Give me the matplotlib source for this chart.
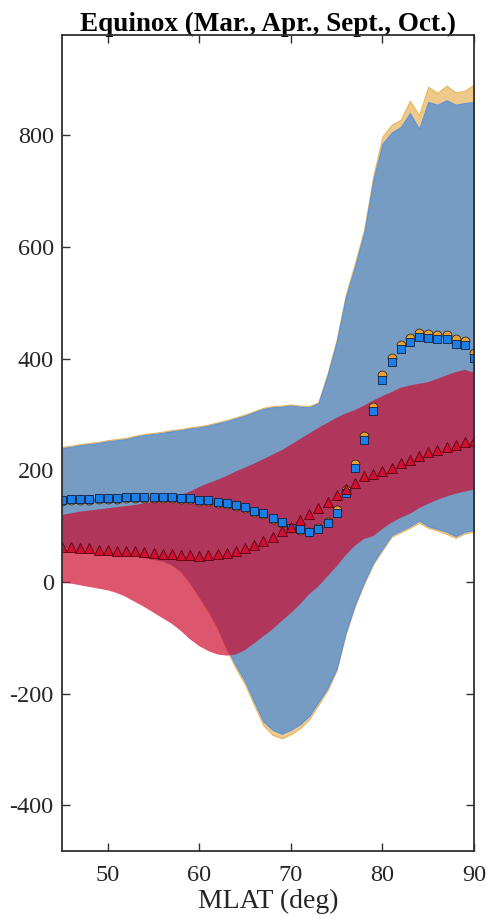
import numpy as np
import matplotlib.pyplot as plt

plt.rcParams['font.family'] = ['Liberation Serif', 'DejaVu Serif']
plt.rcParams['axes.unicode_minus'] = False

# magnetic latitude grid (deg)
mlat = np.arange(45, 91)

# orange set: mean and spread bounds
orange_mean = [145, 146, 147, 147, 148, 148, 149, 150, 151, 151, 151, 151, 150, 149, 148,
               145, 145, 142, 139, 136, 132, 125, 122, 112, 105, 96, 93, 89, 96, 108,
               128, 164, 211, 262, 314, 370, 402, 425, 437, 446, 445, 443, 443, 435, 432, 410]
orange_hi = [242, 244, 247, 249, 251, 254, 256, 258, 262, 265, 267, 269, 272, 274, 277,
             279, 282, 286, 290, 295, 300, 306, 312, 315, 316, 318, 316, 315, 322, 373,
             434, 515, 571, 631, 727, 798, 819, 828, 862, 836, 887, 876, 889, 877, 880, 891]
orange_lo = [64, 61, 59, 57, 55, 53, 51, 49, 47, 44, 41, 38, 31, 18, -3, -28, -54, -84,
             -122, -155, -184, -221, -257, -274, -280, -273, -262, -246, -220, -194,
             -158, -93, -43, -3, 32, 57, 81, 89, 97, 106, 97, 92, 86, 79, 87, 90]

# blue set
blue_mean = [147, 148, 149, 149, 150, 150, 151, 152, 153, 153, 153, 153, 152, 151, 150,
             147, 147, 144, 141, 138, 134, 127, 124, 114, 107, 97, 94, 89, 95, 106,
             124, 159, 205, 255, 307, 362, 394, 417, 429, 438, 437, 435, 435, 427, 424, 402]
blue_hi = [240, 242, 245, 247, 249, 252, 254, 256, 260, 263, 265, 267, 270, 272, 275,
           277, 280, 284, 288, 293, 298, 304, 310, 313, 314, 316, 314, 313, 320, 370,
           430, 510, 565, 625, 720, 785, 805, 815, 840, 812, 860, 855, 863, 855, 858, 860]
blue_lo = [65, 62, 60, 58, 56, 54, 52, 50, 48, 45, 42, 39, 32, 20, 0, -25, -50, -80,
           -118, -150, -178, -215, -250, -265, -272, -265, -255, -240, -215, -190,
           -155, -90, -40, 0, 35, 60, 84, 92, 100, 110, 100, 95, 90, 82, 90, 93]

# red set
red_mean = [62, 62, 60, 60, 58, 58, 56, 56, 55, 54, 52, 50, 50, 48, 48, 47, 48, 50,
            52, 56, 60, 66, 73, 81, 91, 99, 111, 122, 132, 143, 155, 167, 178, 189,
            193, 199, 205, 213, 218, 226, 232, 237, 242, 245, 250, 253]
red_hi = [120, 123, 126, 128, 130, 132, 134, 136, 138, 141, 144, 147, 151, 156, 162,
          170, 177, 183, 190, 198, 205, 212, 220, 228, 236, 246, 256, 266, 276, 285,
          294, 302, 308, 316, 325, 333, 340, 348, 352, 355, 358, 364, 370, 376, 380, 375]
red_lo = [0, -3, -6, -9, -12, -15, -20, -27, -36, -45, -55, -65, -75, -88, -103, -115,
          -124, -130, -132, -130, -122, -110, -97, -85, -70, -56, -40, -22, -8, 10, 28,
          48, 65, 77, 82, 95, 106, 115, 122, 132, 140, 147, 153, 158, 162, 165]

fig = plt.figure(figsize=(4.89, 9.19), dpi=100)
ax = fig.add_axes([0.1268, 0.074, 0.8425, 0.888])
ax.set_axisbelow(True)

ax.fill_between(mlat, orange_lo, orange_hi, facecolor='#efc98a', edgecolor='#e8b65c',
                linewidth=0.8, zorder=1)
ax.fill_between(mlat, blue_lo, blue_hi, facecolor='#6194cf', edgecolor='#4f8fe0',
                linewidth=0.8, alpha=0.85, zorder=1.1)
ax.fill_between(mlat, red_lo, red_hi, facecolor='#cc082a', edgecolor='none',
                alpha=0.68, zorder=1.2)

ax.plot(mlat, orange_mean, 'o', ms=6.4, mfc='#e8a030', mec='#3a2a10', mew=0.6, zorder=3)
ax.plot(mlat, blue_mean, 's', ms=6.2, mfc='#1a7fe8', mec='#102040', mew=0.6, zorder=4)
ax.plot(mlat, red_mean, '^', ms=7.4, mfc='#d0102e', mec='#5a0010', mew=0.6, zorder=5)

ax.set_xlim(45, 90)
ax.set_ylim(-482, 980)
ax.set_xticks([50, 60, 70, 80, 90])
ax.set_yticks([-400, -200, 0, 200, 400, 600, 800])

for s in ax.spines.values():
    s.set_color('#303030')
    s.set_linewidth(1.3)
    s.set_zorder(6)
ax.tick_params(direction='in', length=6, width=1.0, color='#303030',
               top=True, right=True, labelsize=17.5, labelcolor='#262626', pad=6)
ax.tick_params(axis='x', pad=10)

ax.set_xlabel('MLAT (deg)', fontsize=20, color='#262626', labelpad=2)
ax.set_title('Equinox (Mar., Apr., Sept., Oct.)', fontsize=19.5, fontweight='bold', pad=3)

fig.savefig('out.png', dpi=100)
